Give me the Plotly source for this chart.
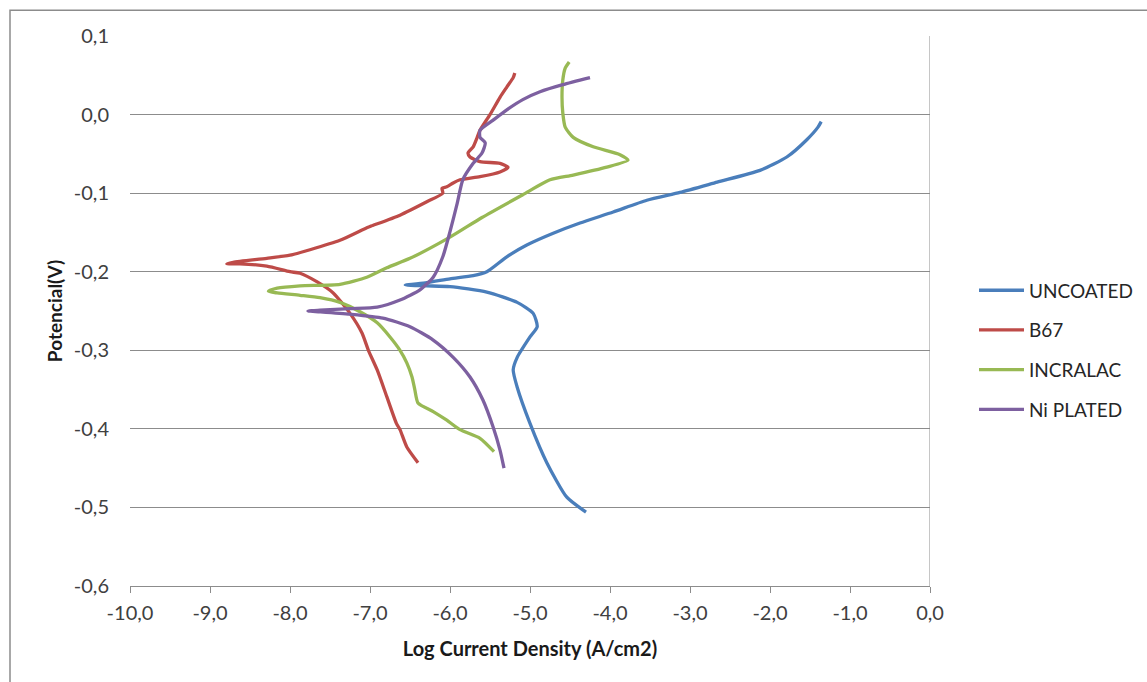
import plotly.graph_objects as go

# Polarization curves: log current density (A/cm2) vs potential (V)
uncoated_x = [-4.30, -4.54, -4.79, -5.00, -5.16, -5.21, -5.16, -5.00, -4.91, -4.96,
              -5.16, -5.54, -6.00, -6.29, -6.56, -6.29, -6.00, -5.71, -5.54, -5.29,
              -5.04, -4.71, -4.375, -3.96, -3.54, -3.125, -2.66, -2.125, -1.79, -1.54,
              -1.40, -1.36]
uncoated_y = [-0.506, -0.487, -0.443, -0.393, -0.347, -0.325, -0.309, -0.283, -0.270, -0.253,
              -0.239, -0.226, -0.219, -0.218, -0.217, -0.214, -0.209, -0.205, -0.200, -0.181,
              -0.166, -0.151, -0.138, -0.124, -0.109, -0.099, -0.086, -0.071, -0.054, -0.032,
              -0.016, -0.009]

b67_x = [-6.40, -6.54, -6.625, -6.67, -6.79, -6.91, -7.02, -7.10, -7.25, -7.46,
         -7.66, -7.875, -8.00, -8.29, -8.625, -8.79, -8.71, -8.29, -8.00, -7.75,
         -7.375, -7.04, -6.99, -6.625, -6.29, -6.09, -6.10, -6.04, -5.96, -5.875,
         -5.625, -5.375, -5.275, -5.375, -5.625, -5.75, -5.775, -5.71, -5.66, -5.625,
         -5.50, -5.375, -5.29, -5.21, -5.19]
b67_y = [-0.443, -0.423, -0.401, -0.393, -0.359, -0.325, -0.300, -0.278, -0.253, -0.227,
         -0.213, -0.202, -0.200, -0.193, -0.190, -0.190, -0.188, -0.183, -0.179, -0.172,
         -0.160, -0.144, -0.142, -0.128, -0.111, -0.100, -0.094, -0.092, -0.087, -0.083,
         -0.079, -0.073, -0.067, -0.062, -0.060, -0.054, -0.049, -0.041, -0.029, -0.020,
         0.000, 0.022, 0.035, 0.047, 0.053]

incralac_x = [-5.45, -5.625, -5.875, -6.04, -6.21, -6.40, -6.44, -6.475, -6.54, -6.625,
              -6.75, -6.91, -7.125, -7.375, -7.625, -7.875, -8.16, -8.27, -8.16, -7.875,
              -7.375, -7.04, -6.79, -6.50, -6.00, -5.60, -5.09, -4.75, -4.46, -4.04,
              -3.775, -3.875, -4.21, -4.46, -4.56, -4.59, -4.60, -4.59, -4.56, -4.51]
incralac_y = [-0.429, -0.412, -0.401, -0.389, -0.378, -0.367, -0.350, -0.334, -0.316, -0.300,
              -0.283, -0.265, -0.251, -0.239, -0.233, -0.230, -0.227, -0.225, -0.221, -0.218,
              -0.216, -0.207, -0.195, -0.183, -0.156, -0.131, -0.102, -0.083, -0.077, -0.067,
              -0.058, -0.051, -0.041, -0.029, -0.016, 0.002, 0.022, 0.044, 0.059, 0.067]

ni_plated_x = [-5.325, -5.375, -5.46, -5.59, -5.75, -5.96, -6.21, -6.50, -6.84, -7.25,
               -7.625, -7.775, -7.625, -7.25, -6.91, -6.625, -6.375, -6.21, -6.09, -6.00,
               -5.91, -5.84, -5.71, -5.60, -5.56, -5.625, -5.625, -5.46, -5.29, -5.09,
               -4.875, -4.59, -4.25]
ni_plated_y = [-0.450, -0.427, -0.398, -0.363, -0.334, -0.309, -0.287, -0.270, -0.259, -0.254,
               -0.251, -0.250, -0.249, -0.247, -0.245, -0.236, -0.223, -0.207, -0.181, -0.149,
               -0.113, -0.083, -0.062, -0.049, -0.036, -0.029, -0.020, -0.007, 0.006, 0.019,
               0.029, 0.038, 0.047]

x_ticks = [-10, -9, -8, -7, -6, -5, -4, -3, -2, -1, 0]
x_tick_labels = ["-10,0", "-9,0", "-8,0", "-7,0", "-6,0", "-5,0", "-4,0", "-3,0", "-2,0", "-1,0", "0,0"]
y_ticks = [0.1, 0.0, -0.1, -0.2, -0.3, -0.4, -0.5, -0.6]
y_tick_labels = ["0,1", "0,0", "-0,1", "-0,2", "-0,3", "-0,4", "-0,5", "-0,6"]

series = [
    ("UNCOATED", uncoated_x, uncoated_y, "#4A7EBB"),
    ("B67", b67_x, b67_y, "#BE4B48"),
    ("INCRALAC", incralac_x, incralac_y, "#98B954"),
    ("Ni PLATED", ni_plated_x, ni_plated_y, "#7D60A0"),
]

FONT = "Lato, Calibri, 'Open Sans', sans-serif"
GRID = "#8C8C8C"

fig = go.Figure()
for name, xs, ys, color in series:
    fig.add_trace(go.Scatter(
        x=xs, y=ys, name=name, mode="lines", legendgroup=name,
        line=dict(color=color, width=3.3, shape="spline", smoothing=0.6),
    ))

fig.update_layout(
    width=1147, height=682,
    margin=dict(l=130, r=217, t=36, b=96, autoexpand=False),
    paper_bgcolor="white", plot_bgcolor="white",
    font=dict(family=FONT, size=20, color="#404040"),
    showlegend=True,
    legend=dict(
        x=1.055, y=0.572, xanchor="left", yanchor="top",
        font=dict(family=FONT, size=19, color="#262626"),
        traceorder="grouped", tracegroupgap=12, itemwidth=45,
        bgcolor="rgba(0,0,0,0)",
    ),
    xaxis=dict(
        range=[-10, 0], tickvals=x_ticks, ticktext=x_tick_labels,
        showgrid=False, zeroline=False,
        showline=True, linecolor=GRID, linewidth=1,
        ticks="outside", ticklen=6, tickcolor=GRID, ticklabelstandoff=3,
        tickfont=dict(size=20, color="#404040"),
        title=dict(text="<b>Log Current Density (A/cm2)</b>", font=dict(size=20, color="#1a1a1a"), standoff=18),
    ),
    yaxis=dict(
        range=[-0.6, 0.1], tickvals=y_ticks, ticktext=y_tick_labels,
        showgrid=True, gridcolor=GRID, gridwidth=1, zeroline=False,
        showline=False, ticks="", ticklabelstandoff=20,
        tickfont=dict(size=20, color="#404040"),
        title=dict(text="<b>Potencial(V)</b>", font=dict(size=19, color="#1a1a1a"), standoff=6),
    ),
)

# vertical axis line where x = 0
fig.add_shape(type="line", xref="x", yref="y", x0=0, x1=0, y0=-0.6, y1=0.1,
              line=dict(color=GRID, width=1))
# chart area border
fig.add_shape(type="rect", xref="paper", yref="paper",
              x0=-0.15, x1=1.3, y0=-0.2, y1=1.047,
              line=dict(color="#8C8C8C", width=1.5), layer="below")

fig.write_html("out.html")
